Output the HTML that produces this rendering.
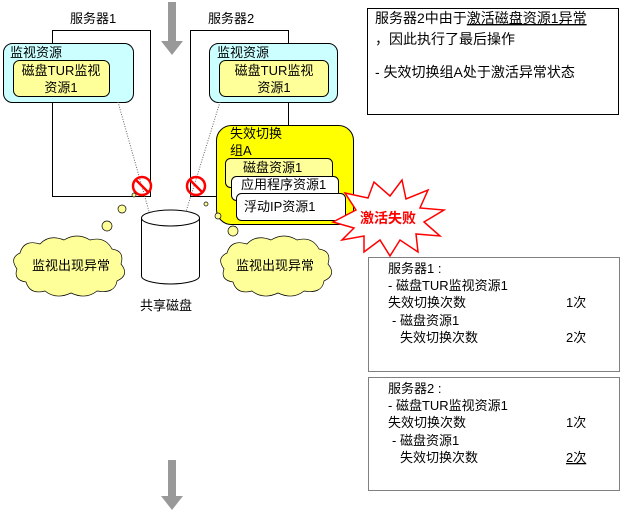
<!DOCTYPE html>
<html><head><meta charset="utf-8"><style>
body{margin:0;background:#fff;}
svg text{font-family:"Liberation Sans","Noto Sans CJK SC",sans-serif;font-size:13px;fill:#000;}
</style></head><body>
<svg width="623" height="515" viewBox="0 0 623 515" xmlns="http://www.w3.org/2000/svg">
<polygon points="168,2 176,2 176,41 183,41 172,55 161,41 168,41" fill="#999"/>
<polygon points="168,460 176,460 176,496 183,496 172,510 161,496 168,496" fill="#999"/>
<text x="70" y="23">服务器1</text>
<text x="208" y="23">服务器2</text>
<rect x="52.5" y="30.5" width="98" height="166" fill="none" stroke="#000"/>
<rect x="190.5" y="30.5" width="98" height="166" fill="none" stroke="#000"/>
<rect x="3.5" y="43.5" width="130" height="59" rx="9" fill="#ccffff" stroke="#000"/>
<text x="10" y="57">监视资源</text>
<rect x="13.5" y="60.5" width="96" height="36" rx="6" fill="#ffff99" stroke="#000"/>
<text x="61" y="75" text-anchor="middle">磁盘TUR监视</text>
<text x="61" y="92" text-anchor="middle">资源1</text>
<rect x="209.5" y="43.5" width="128" height="59" rx="9" fill="#ccffff" stroke="#000"/>
<text x="217" y="57">监视资源</text>
<rect x="219.5" y="60.5" width="109" height="36" rx="6" fill="#ffff99" stroke="#000"/>
<text x="274" y="75" text-anchor="middle">磁盘TUR监视</text>
<text x="274" y="92" text-anchor="middle">资源1</text>
<line x1="118" y1="102" x2="150" y2="215" stroke="#666" stroke-dasharray="1,1.5"/>
<line x1="220" y1="102" x2="185" y2="215" stroke="#666" stroke-dasharray="1,1.5"/>
<rect x="216.5" y="125.5" width="137" height="99" rx="15" fill="#ffff00" stroke="#000"/>
<text x="230" y="138">失效切换</text>
<text x="230" y="155">组A</text>
<rect x="225.5" y="158.5" width="107" height="29" rx="5" fill="#ffff99" stroke="#000"/>
<text x="243" y="172">磁盘资源1</text>
<rect x="231.5" y="176.5" width="107" height="24" rx="5" fill="#fff" stroke="#000"/>
<text x="241" y="189">应用程序资源1</text>
<rect x="236.5" y="193.5" width="109" height="27" rx="5" fill="#fff" stroke="#000"/>
<text x="244" y="211">浮动IP资源1</text>
<g fill="none" stroke="#f00" stroke-width="2.5">
<circle cx="142" cy="186" r="9"/><line x1="136" y1="180" x2="148" y2="192"/>
<circle cx="196" cy="186" r="9"/><line x1="190" y1="180" x2="202" y2="192"/>
</g>
<path d="M141.5,218 L141.5,276 A29,8 0 0 0 199.5,276 L199.5,218" fill="#fff" stroke="#000"/>
<ellipse cx="170.5" cy="218" rx="29" ry="8" fill="#fff" stroke="#000"/>
<text x="140" y="310">共享磁盘</text>
<g fill="#ffff99" stroke="#000" stroke-width="0.7">
<circle cx="134" cy="195" r="2"/><circle cx="122" cy="209" r="4"/><circle cx="107" cy="226" r="5"/>
<circle cx="206" cy="204" r="2"/><circle cx="218" cy="216" r="3"/><circle cx="233" cy="231" r="5"/>
<path d="M20,253 q4,-14 20,-9 q9,-10 24,-4 q13,-8 26,0 q15,-4 22,9 q13,2 9,15 q9,11 -4,17 q-2,13 -20,10 q-11,9 -26,2 q-15,7 -26,-2 q-15,4 -19,-9 q-13,-2 -9,-13 q-8,-11 3,-16z"/>
<path d="M227,253 q4,-14 20,-9 q9,-10 24,-4 q13,-8 26,0 q15,-4 22,9 q13,2 9,15 q9,11 -4,17 q-2,13 -20,10 q-11,9 -26,2 q-15,7 -26,-2 q-15,4 -19,-9 q-13,-2 -9,-13 q-8,-11 3,-16z"/>
</g>
<text x="32" y="270">监视出现异常</text>
<text x="236" y="270">监视出现异常</text>
<polygon points="333,222 356,210 345,193 368,198 374,182 390,196 402,180 406,199 428,190 420,208 444,210 424,222 440,236 416,234 418,252 400,240 390,256 380,240 364,252 364,236 342,240 354,228" fill="#fff" stroke="#f00" stroke-width="1.5"/>
<text x="388" y="223" text-anchor="middle" style="fill:#f00;font-weight:bold;font-size:14px">激活失败</text>
<rect x="367.5" y="8.5" width="251" height="106" fill="#fff" stroke="#000"/>
<text x="375" y="23" style="font-size:14px">服务器2中由于<tspan text-decoration="underline">激活磁盘资源1异常</tspan></text>
<text x="375" y="44" style="font-size:14px">，因此执行了最后操作</text>
<text x="375" y="77" style="font-size:14px">- 失效切换组A处于激活异常状态</text>
<rect x="368.5" y="257.5" width="251" height="114" fill="#fff" stroke="#000" stroke-dasharray="1,1"/>
<text x="388" y="273">服务器1 :</text>
<text x="388" y="290">- 磁盘TUR监视资源1</text>
<text x="388" y="307">失效切换次数</text><text x="566" y="307">1次</text>
<text x="392" y="325">- 磁盘资源1</text>
<text x="400" y="342">失效切换次数</text><text x="566" y="342">2次</text>
<rect x="368.5" y="377.5" width="251" height="113" fill="#fff" stroke="#000" stroke-dasharray="1,1"/>
<text x="388" y="393">服务器2 :</text>
<text x="388" y="410">- 磁盘TUR监视资源1</text>
<text x="388" y="427">失效切换次数</text><text x="566" y="427">1次</text>
<text x="392" y="445">- 磁盘资源1</text>
<text x="400" y="462">失效切换次数</text><text x="566" y="462" text-decoration="underline">2次</text>
</svg>
</body></html>
